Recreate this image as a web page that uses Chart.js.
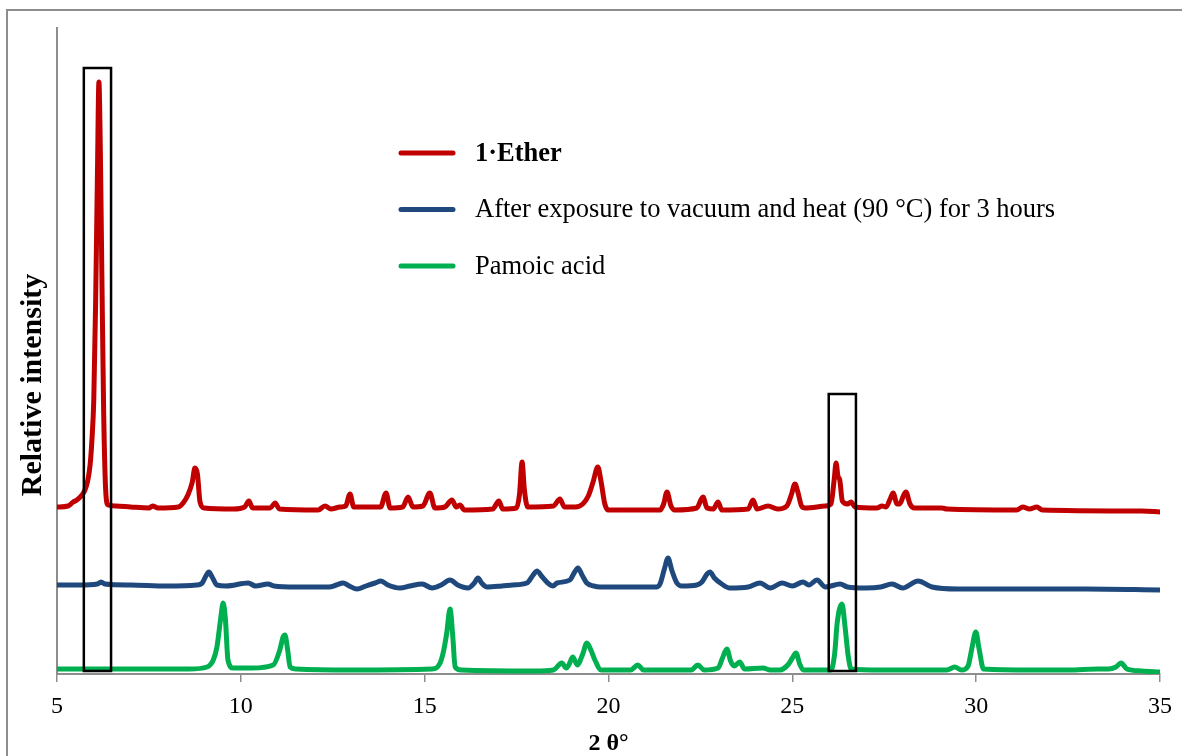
<!DOCTYPE html>
<html>
<head>
<meta charset="utf-8">
<title>PXRD patterns</title>
<script src="https://cdn.jsdelivr.net/npm/chart.js@4.4.1/dist/chart.umd.min.js"></script>
<style>
  html, body { margin: 0; padding: 0; background: #fff; overflow: hidden; }
  #wrap { position: relative; width: 1182px; height: 756px; }
  #frame { position: absolute; left: 6px; top: 9px; width: 1200px; height: 800px; border: 2px solid #8d8d8d; }
  #chart { position: absolute; left: 0; top: 0; }
</style>
</head>
<body>
<div id="wrap">
  <div id="frame"></div>
  <canvas id="chart" width="1182" height="756"></canvas>
</div>
<script>
const seriesLabels = ['1·Ether', 'After exposure to vacuum and heat (90 °C) for 3 hours', 'Pamoic acid'];
const seriesColors = ['#C00000', '#1F497D', '#00B050'];
const xTicks = [5, 10, 15, 20, 25, 30, 35];

// 1·Ether pattern (2θ, intensity with offset)
const etherTheta = [5.00, 5.30, 5.44, 5.54, 5.68, 5.76, 5.84, 5.90, 5.95, 6.00, 6.05, 6.10, 6.14, 6.18, 6.22, 6.27, 6.33, 6.39,
  6.60, 7.00, 7.50, 7.60, 7.75, 8.30, 8.43, 8.56, 8.68, 8.75, 8.82, 8.89, 9.00, 9.80, 10.10, 10.22, 10.32, 10.80, 10.93, 11.05,
  12.10, 12.29, 12.45, 12.70, 12.85, 12.97, 13.07, 13.80, 13.95, 14.06, 14.40, 14.55, 14.68, 14.95, 15.14, 15.28, 15.55, 15.74,
  15.86, 15.96, 16.08, 16.85, 17.02, 17.12, 17.50, 17.58, 17.65, 17.71, 17.80, 18.50, 18.68, 18.80, 19.10, 19.30, 19.45, 19.58,
  19.71, 19.80, 19.90, 20.00, 21.40, 21.50, 21.59, 21.70, 21.80, 22.40, 22.57, 22.68, 22.85, 22.98, 23.08, 23.80, 23.93, 24.04,
  24.34, 24.60, 24.85, 24.98, 25.07, 25.15, 25.25, 25.35, 25.90, 26.05, 26.14, 26.19, 26.24, 26.29, 26.36, 26.50, 26.60, 26.70,
  27.30, 27.44, 27.55, 27.66, 27.74, 27.85, 27.92, 28.02, 28.09, 28.20, 28.32, 29.07, 29.20, 31.10, 31.27, 31.45, 31.65, 31.80,
  34.50, 35.00];
const etherCounts = [167, 168, 172, 174, 179, 184, 194, 209, 234, 274, 370, 500, 592, 520, 400, 260, 180, 169,
  168, 167, 166, 168, 166, 167, 171, 179, 192, 206, 200, 172, 166, 165, 167, 173, 166, 166, 171, 165,
  164, 168, 165, 167, 168, 180, 167, 167, 181, 166, 167, 177, 167, 168, 181, 166, 167, 174,
  167, 169, 164, 165, 173, 165, 166, 180, 212, 185, 167, 168, 175, 167, 167, 170, 178, 192,
  207, 192, 170, 164, 164, 170, 182, 168, 164, 166, 177, 166, 165, 172, 164, 165, 174, 165,
  168, 165, 168, 180, 190, 182, 168, 166, 168, 170, 195, 211, 198, 194, 173, 170, 172, 167,
  166, 168, 167, 175, 181, 170, 170, 178, 182, 170, 166, 166, 165, 164, 167, 165, 167, 164,
  163, 162];

// after vacuum + heat
const heatedTheta = [5.00, 5.60, 6.10, 6.20, 6.30, 7.00, 8.00, 8.80, 8.95, 9.05, 9.13, 9.22, 9.35, 9.60, 10.20, 10.40, 10.74,
  10.90, 11.50, 12.40, 12.60, 12.78, 12.95, 13.16, 13.40, 13.65, 13.81, 14.00, 14.33, 14.60, 14.93, 15.20, 15.45, 15.69, 15.90,
  16.18, 16.35, 16.45, 16.55, 16.70, 17.10, 17.40, 17.78, 17.95, 18.05, 18.20, 18.35, 18.49, 18.60, 18.95, 19.08, 19.17, 19.28,
  19.41, 19.60, 19.77, 20.50, 21.30, 21.40, 21.52, 21.62, 21.72, 21.86, 22.00, 22.40, 22.54, 22.68, 22.76, 22.88, 23.08, 23.30,
  23.80, 24.12, 24.40, 24.72, 25.00, 25.29, 25.45, 25.67, 25.90, 26.30, 26.50, 27.00, 27.40, 27.71, 28.00, 28.42, 28.80, 29.50,
  31.00, 33.00, 35.00];
const heatedCounts = [89, 89, 90, 92, 90, 89, 88, 89, 91, 98, 102, 97, 89, 88, 91, 88, 90,
  88, 87, 87, 89, 91, 88, 85, 88, 91, 93, 89, 86, 88, 90, 86, 89, 94, 89,
  86, 91, 96, 91, 87, 88, 89, 91, 99, 103, 97, 91, 88, 91, 94, 102, 106, 99,
  91, 88, 87, 87, 87, 90, 105, 116, 104, 91, 88, 89, 92, 100, 102, 96, 90, 86,
  87, 91, 86, 91, 88, 92, 89, 94, 87, 90, 87, 86, 87, 90, 86, 93, 87, 85,
  85, 85, 84];

// pamoic acid reference
const pamoicTheta = [5.00, 6.00, 7.50, 8.60, 9.08, 9.25, 9.35, 9.45, 9.52, 9.58, 9.65, 9.79, 10.30, 10.88, 11.06, 11.15, 11.20,
  11.27, 11.34, 11.50, 13.00, 15.20, 15.42, 15.52, 15.60, 15.69, 15.76, 15.83, 16.00, 18.00, 18.50, 18.73, 18.85, 18.92, 19.03,
  19.15, 19.30, 19.41, 19.52, 19.63, 19.80, 20.60, 20.80, 20.95, 22.25, 22.43, 22.60, 22.98, 23.10, 23.22, 23.32, 23.42, 23.57,
  23.70, 24.20, 24.40, 24.66, 24.90, 25.00, 25.10, 25.20, 25.30, 26.05, 26.15, 26.22, 26.35, 26.44, 26.52, 26.60, 27.40, 29.20,
  29.42, 29.60, 29.78, 29.88, 29.99, 30.08, 30.20, 31.50, 32.50, 33.31, 33.60, 33.80, 33.94, 34.10, 34.50, 35.00];
const pamoicCounts = [5, 5, 5, 5, 7, 14, 27, 55, 71, 55, 14, 6, 6, 9, 24, 37, 39,
  25, 7, 5, 4, 5, 11, 24, 41, 65, 40, 7, 4, 3, 4, 11, 6, 9, 17,
  9, 20, 31, 24, 14, 4, 4, 9, 4, 4, 9, 4, 6, 16, 25, 13, 8, 12,
  5, 6, 4, 4, 10, 16, 21, 10, 4, 4, 20, 51, 70, 45, 18, 5, 4, 4,
  7, 4, 8, 25, 42, 25, 5, 4, 4, 5, 5, 7, 11, 5, 3, 2];

// highlighted 2θ windows and the height of each frame
const boxFrom = [5.73, 25.99];
const boxTo = [6.47, 26.73];
const boxTop = [606, 280];

const serif = "'Liberation Serif', 'Times New Roman', serif";

function toPoints(theta, counts) {
  return theta.map((t, i) => ({ x: t, y: counts[i] }));
}

// black frames around the regions of interest
const boxPlugin = {
  id: 'boxes',
  afterDatasetsDraw(chart) {
    const { ctx, scales: { x, y } } = chart;
    ctx.save();
    ctx.strokeStyle = '#000';
    ctx.lineWidth = 2.5;
    boxFrom.forEach((from, i) => {
      const left = x.getPixelForValue(from);
      const right = x.getPixelForValue(boxTo[i]);
      const top = y.getPixelForValue(boxTop[i]);
      const bottom = y.getPixelForValue(3);
      ctx.strokeRect(left, top, right - left, bottom - top);
    });
    ctx.restore();
  }
};

// legend inside the plot + rotated y title
const labelPlugin = {
  id: 'labels',
  afterDraw(chart) {
    const { ctx } = chart;
    ctx.save();
    seriesLabels.forEach((label, i) => {
      const ly = 153 + i * 56.5;
      ctx.strokeStyle = seriesColors[i];
      ctx.lineWidth = 5;
      ctx.lineCap = 'round';
      ctx.beginPath();
      ctx.moveTo(401, ly);
      ctx.lineTo(453, ly);
      ctx.stroke();
      ctx.fillStyle = '#000';
      ctx.textBaseline = 'middle';
      ctx.textAlign = 'left';
      ctx.font = (i === 0 ? 'bold ' : '') + '26.5px ' + serif;
      ctx.fillText(label, 475, ly + 1);
    });

    ctx.translate(33, 385);
    ctx.rotate(-Math.PI / 2);
    ctx.font = 'bold 30px ' + serif;
    ctx.textAlign = 'center';
    ctx.textBaseline = 'middle';
    ctx.fillText('Relative intensity', 0, 0);
    ctx.restore();
  }
};

new Chart(document.getElementById('chart'), {
  type: 'line',
  data: {
    datasets: [
      { label: seriesLabels[0], data: toPoints(etherTheta, etherCounts), borderColor: seriesColors[0] },
      { label: seriesLabels[1], data: toPoints(heatedTheta, heatedCounts), borderColor: seriesColors[1] },
      { label: seriesLabels[2], data: toPoints(pamoicTheta, pamoicCounts), borderColor: seriesColors[2] }
    ]
  },
  options: {
    responsive: false,
    animation: false,
    layout: { padding: { left: 0, right: 22, top: 28, bottom: 0 } },
    elements: {
      point: { radius: 0, hoverRadius: 0 },
      line: { borderWidth: 5, cubicInterpolationMode: 'monotone', borderCapStyle: 'round', borderJoinStyle: 'round', fill: false }
    },
    plugins: {
      legend: { display: false },
      tooltip: { enabled: false }
    },
    scales: {
      x: {
        type: 'linear',
        min: 5,
        max: 35,
        afterBuildTicks: scale => { scale.ticks = xTicks.map(v => ({ value: v })); },
        afterFit: scale => { scale.height = 82; },
        ticks: {
          color: '#000',
          padding: 10,
          maxRotation: 0,
          autoSkip: false,
          font: { family: serif, size: 24 }
        },
        grid: { drawOnChartArea: false, tickLength: 8, color: '#8d8d8d', lineWidth: 1.5 },
        border: { color: '#8d8d8d', width: 2 },
        title: {
          display: true,
          text: '2 θ°',
          color: '#000',
          padding: 0,
          font: { family: serif, size: 24, weight: 'bold', lineHeight: 1 }
        }
      },
      y: {
        min: 0,
        max: 646,
        afterFit: scale => { scale.width = 57; },
        ticks: { display: false },
        grid: { display: false },
        border: { color: '#8d8d8d', width: 2 }
      }
    }
  },
  plugins: [boxPlugin, labelPlugin]
});
</script>
</body>
</html>
